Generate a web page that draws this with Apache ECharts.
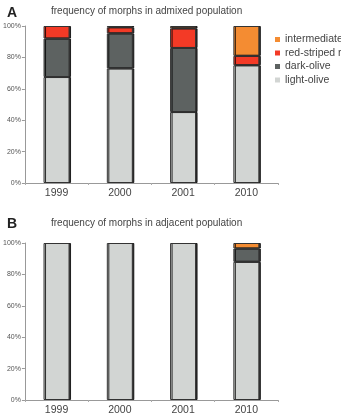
<!DOCTYPE html>
<html><head><meta charset="utf-8">
<script src="https://cdn.jsdelivr.net/npm/echarts@6/dist/echarts.min.js"></script>
<style>html,body{margin:0;padding:0;background:#fff}#c{width:341px;height:417px}</style>
</head><body><div id="c"></div>
<script>
const years = ['1999','2000','2001','2010'];
const yTicks = ['0%','20%','40%','60%','80%','100%'];
const seriesNames = ['light-olive','dark-olive','red-striped red','intermediate'];
const colors = ['#d2d5d3','#5d6261','#f33a26','#f48c32'];
// Panel A: admixed population (%)
const admixLight = [67.5, 73, 45.2, 75];
const admixDark = [24.5, 22.3, 40.8, 0];
const admixRed = [8, 3.9, 12.5, 6];
const admixInter = [0, 0.8, 1.5, 19];
// Panel B: adjacent population (%)
const adjLight = [100, 100, 100, 88];
const adjDark = [0, 0, 0, 8.5];
const adjRed = [0, 0, 0, 0];
const adjInter = [0, 0, 0, 3.5];

const chart = echarts.init(document.getElementById('c'));
const txt = '#444';
function mkSeries(idx, data, ax){
  return {
    name: seriesNames[idx], type:'bar', stack:'s'+ax, xAxisIndex:ax, yAxisIndex:ax,
    data: data.map(v=>v===0?'-':v), barWidth:26,
    itemStyle:{color:colors[idx], borderColor:'#333', borderWidth:1,
      shadowColor:'rgba(0,0,0,0.8)', shadowOffsetX:1.5, shadowBlur:0},
    emphasis:{disabled:true}
  };
}
const A=[admixLight,admixDark,admixRed,admixInter];
const B=[adjLight,adjDark,adjRed,adjInter];
const series=[];
A.forEach((d,i)=>series.push(mkSeries(i,d,0)));
B.forEach((d,i)=>series.push(mkSeries(i,d,1)));
function xAx(g){return {type:'category',gridIndex:g,data:years,
  axisLine:{lineStyle:{color:'#999'}},axisTick:{show:true,length:2,lineStyle:{color:'#aaa'}},
  axisLabel:{color:'#444',fontSize:10.5,fontFamily:'Liberation Sans',margin:5}};}
function yAx(g){return {type:'value',gridIndex:g,min:0,max:100,interval:20,
  axisLine:{show:true,lineStyle:{color:'#999'}},axisTick:{show:true,length:3,lineStyle:{color:'#999'}},
  splitLine:{show:false},
  axisLabel:{color:'#555',fontSize:7,fontFamily:'Liberation Sans',margin:4,formatter:v=>v+'%'}};}
chart.setOption({
  animation:false,
  textStyle:{fontFamily:'Liberation Sans'},
  title:[
    {text:'A',left:2,top:1,textStyle:{fontSize:14,fontWeight:'bold',color:'#222'}},
    {text:'frequency of morphs in admixed population',left:46,top:1,textStyle:{fontSize:10,fontWeight:'normal',color:txt}},
    {text:'B',left:2,top:212,textStyle:{fontSize:14,fontWeight:'bold',color:'#222'}},
    {text:'frequency of morphs in adjacent population',left:46,top:213,textStyle:{fontSize:10,fontWeight:'normal',color:txt}}
  ],
  legend:{orient:'vertical',left:270,top:29,itemWidth:5,itemHeight:5,itemGap:2.5,icon:'rect',
    itemStyle:{borderWidth:0,shadowOffsetX:0,shadowColor:'transparent'},
    data:['intermediate','red-striped red','dark-olive','light-olive'],
    textStyle:{fontSize:10.5,color:txt}},
  grid:[{left:22,top:26,width:256,height:157},{left:22,top:243,width:256,height:157}],
  xAxis:[xAx(0),xAx(1)],
  yAxis:[yAx(0),yAx(1)],
  series:series
});
</script></body></html>
